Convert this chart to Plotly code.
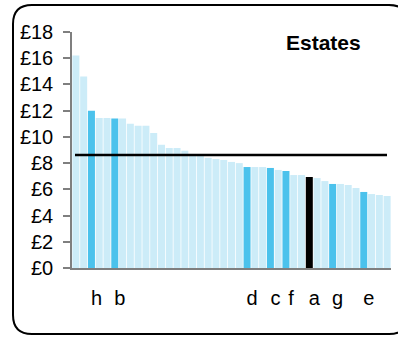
import plotly.graph_objects as go

# ---- data ----
values = [16.2, 14.6, 12.0, 11.45, 11.45, 11.4, 11.4, 11.0, 10.85, 10.85,
          10.3, 9.4, 9.15, 9.15, 8.95, 8.7, 8.55, 8.4, 8.31, 8.24,
          8.09, 8.0, 7.7, 7.7, 7.7, 7.63, 7.48, 7.4, 7.09, 7.09,
          6.94, 6.86, 6.63, 6.41, 6.41, 6.33, 6.1, 5.8, 5.64, 5.57, 5.49]
# 0 = other, 1 = highlighted, 2 = selected
groups = [0, 0, 1, 0, 0, 1, 0, 0, 0, 0,
          0, 0, 0, 0, 0, 0, 0, 0, 0, 0,
          0, 0, 1, 0, 0, 1, 0, 1, 0, 0,
          2, 0, 0, 1, 0, 0, 0, 1, 0, 0, 0]
label_positions = [2, 5, 22, 25, 27, 30, 33, 37]
label_text = ["h", "b", "d", "c", "f", "a", "g", "e"]
average_value = 8.62
y_tick_values = [0, 2, 4, 6, 8, 10, 12, 14, 16, 18]
y_tick_text = ["£0", "£2", "£4", "£6", "£8", "£10", "£12", "£14", "£16", "£18"]
title_text = "Estates"

group_colors = {0: "#CCECF8", 1: "#4BC2EC", 2: "#000000"}

W, H = 398, 338
ML, MR, MT, MB = 72, 7, 32, 70
PW, PH = W - ML - MR, H - MT - MB

def px_x(px):  # page pixel -> paper
    return (px - ML) / PW

def px_y(py):
    return (H - MB - py) / PH

fig = go.Figure()
fig.add_trace(go.Bar(
    x=list(range(len(values))),
    y=values,
    marker=dict(color=[group_colors[g] for g in groups], line=dict(width=0)),
    hoverinfo="y",
))

# average line
fig.add_shape(type="line", xref="paper", yref="y",
              x0=px_x(75), x1=px_x(387), y0=average_value, y1=average_value,
              line=dict(color="black", width=2.5))

# rounded border
L, R, T, B, r = 13, 408, 5, 334, 19
path = (f"M {px_x(L + r)},{px_y(T)} L {px_x(R - r)},{px_y(T)} "
        f"Q {px_x(R)},{px_y(T)} {px_x(R)},{px_y(T + r)} "
        f"L {px_x(R)},{px_y(B - r)} Q {px_x(R)},{px_y(B)} {px_x(R - r)},{px_y(B)} "
        f"L {px_x(L + r)},{px_y(B)} Q {px_x(L)},{px_y(B)} {px_x(L)},{px_y(B - r)} "
        f"L {px_x(L)},{px_y(T + r)} Q {px_x(L)},{px_y(T)} {px_x(L + r)},{px_y(T)} Z")
fig.add_shape(type="path", xref="paper", yref="paper", path=path,
              line=dict(color="black", width=2), fillcolor="rgba(0,0,0,0)")

fig.add_annotation(text=f"<b>{title_text}</b>", xref="paper", yref="paper",
                   x=px_x(323), y=px_y(42), showarrow=False,
                   font=dict(size=21, color="black", family="Arial, Liberation Sans"),
                   xanchor="center", yanchor="middle")

fig.update_layout(
    width=W, height=H, autosize=False,
    margin=dict(l=ML, r=MR, t=MT, b=MB),
    paper_bgcolor="white", plot_bgcolor="white",
    bargap=0.1, showlegend=False,
    font=dict(family="Arial, Liberation Sans", size=20, color="black"),
)
fig.update_xaxes(range=[-0.5, len(values) - 0.5], tickvals=label_positions,
                 ticktext=label_text, ticks="", showgrid=False, zeroline=False,
                 showline=True, linecolor="#7f7f7f", linewidth=1.5,
                 ticklabelstandoff=11, ticklabelshift=5,
                 tickfont=dict(size=20))
fig.update_yaxes(range=[0, 18], tickvals=y_tick_values, ticktext=y_tick_text,
                 ticks="outside", ticklen=7, tickcolor="#7f7f7f", tickwidth=1.5,
                 showgrid=False, zeroline=False, showline=True,
                 linecolor="#7f7f7f", linewidth=1.5, ticklabelstandoff=6,
                 tickfont=dict(size=20))

fig.write_html("out.html", config={"displayModeBar": False},
               post_script="document.body.style.margin='0';document.body.style.overflow='hidden';")
